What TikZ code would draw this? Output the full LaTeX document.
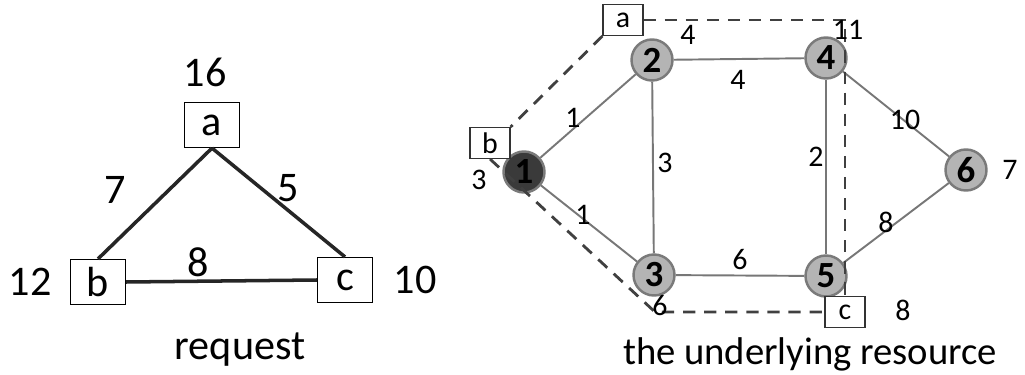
\documentclass[tikz,border=0pt]{standalone}
\usepackage{fontspec}
\setmainfont{Carlito}
\usetikzlibrary{positioning}
\definecolor{edgegray}{HTML}{777777}
\definecolor{nodefill}{HTML}{B4B4B4}
\definecolor{nodeline}{HTML}{7A7A7A}
\definecolor{darknode}{HTML}{3A3A3A}
\definecolor{dashgray}{HTML}{404040}

\begin{document}
\begin{tikzpicture}[x=0.02cm,y=-0.02cm,
  vbox/.style={rectangle,draw=black,line width=0.7pt,fill=white,minimum width=1.1cm,minimum height=0.9cm,inner sep=0pt,font=\fontsize{24}{24}\selectfont},
  vlink/.style={draw=black!85,line width=2pt},
  big/.style={font=\fontsize{24}{24}\selectfont},
  sn/.style={circle,draw=nodeline,fill=nodefill,line width=1.4pt,minimum size=0.82cm,inner sep=0pt,font=\fontsize{21}{21}\selectfont\bfseries},
  sbox/.style={rectangle,draw=black!80,line width=0.6pt,fill=white,minimum width=0.8cm,minimum height=0.62cm,inner sep=0pt,font=\fontsize{17}{17}\selectfont},
  slink/.style={draw=edgegray,line width=1.1pt},
  map/.style={draw=dashgray,line width=1.6pt,dash pattern=on 7pt off 5pt},
  w/.style={font=\fontsize{17}{17}\selectfont,inner sep=1pt}]
\useasboundingbox (0,0) rectangle (1025,375);

% request
\node[vbox] (a) at (212,125) {a};
\node[vbox] (b) at (98,282) {b};
\node[vbox] (c) at (345,280) {c};
\draw[vlink] (a.south) -- (b.north);
\draw[vlink] (a.south) -- (c.north);
\draw[vlink] (b.east) -- (c.west);
\node[big] at (205,72) {16};
\node[big] at (30,282) {12};
\node[big] at (415,280) {10};
\node[big] at (115,190) {7};
\node[big] at (288,188) {5};
\node[big] at (198,262) {8};
\node[big] (req) at (240,350) {request};

% substrate
\node[sn,fill=darknode] (n1) at (524,172) {1};
\node[sn] (n2) at (652,60) {2};
\node[sn] (n3) at (654,275) {3};
\node[sn] (n4) at (826,58) {4};
\node[sn] (n5) at (826,276) {5};
\node[sn] (n6) at (966,170) {6};
\draw[slink] (n1) -- (n2);
\draw[slink] (n1) -- (n3);
\draw[slink] (n2) -- (n4);
\draw[slink] (n2) -- (n3);
\draw[slink] (n4) -- (n5);
\draw[slink] (n3) -- (n5);
\draw[slink] (n4) -- (n6);
\draw[slink] (n5) -- (n6);
\node[w] at (573,118) {1};
\node[w] at (583,215) {1};
\node[w] at (738,80) {4};
\node[w] at (665,163) {3};
\node[w] at (816,157) {2};
\node[w] at (905,120) {10};
\node[w] at (886,222) {8};
\node[w] at (740,260) {6};

% mapping
\node[sbox] (ra) at (623,20) {a};
\node[sbox] (rb) at (490,143) {b};
\node[sbox] (rc) at (845,312) {c};
\coordinate (tr) at (rc.north |- ra.east);
\coordinate (bl) at (655,312);
\draw[map] (ra.south west) -- (rb.north east);
\draw[map] (ra.east) -- (tr) -- (rc.north);
\draw[map] (rb.south) -- (bl) -- (rc.west);
\node[w] at (688,35) {4};
\node[w] at (848,30) {11};
\node[w] at (479,180) {3};
\node[w] at (660,306) {6};
\node[w] at (1010,170) {7};
\node[w] at (903,310) {8};
\node[font=\fontsize{22}{22}\selectfont] (res) at (810,354) {the underlying resource};
\end{tikzpicture}
\end{document}
